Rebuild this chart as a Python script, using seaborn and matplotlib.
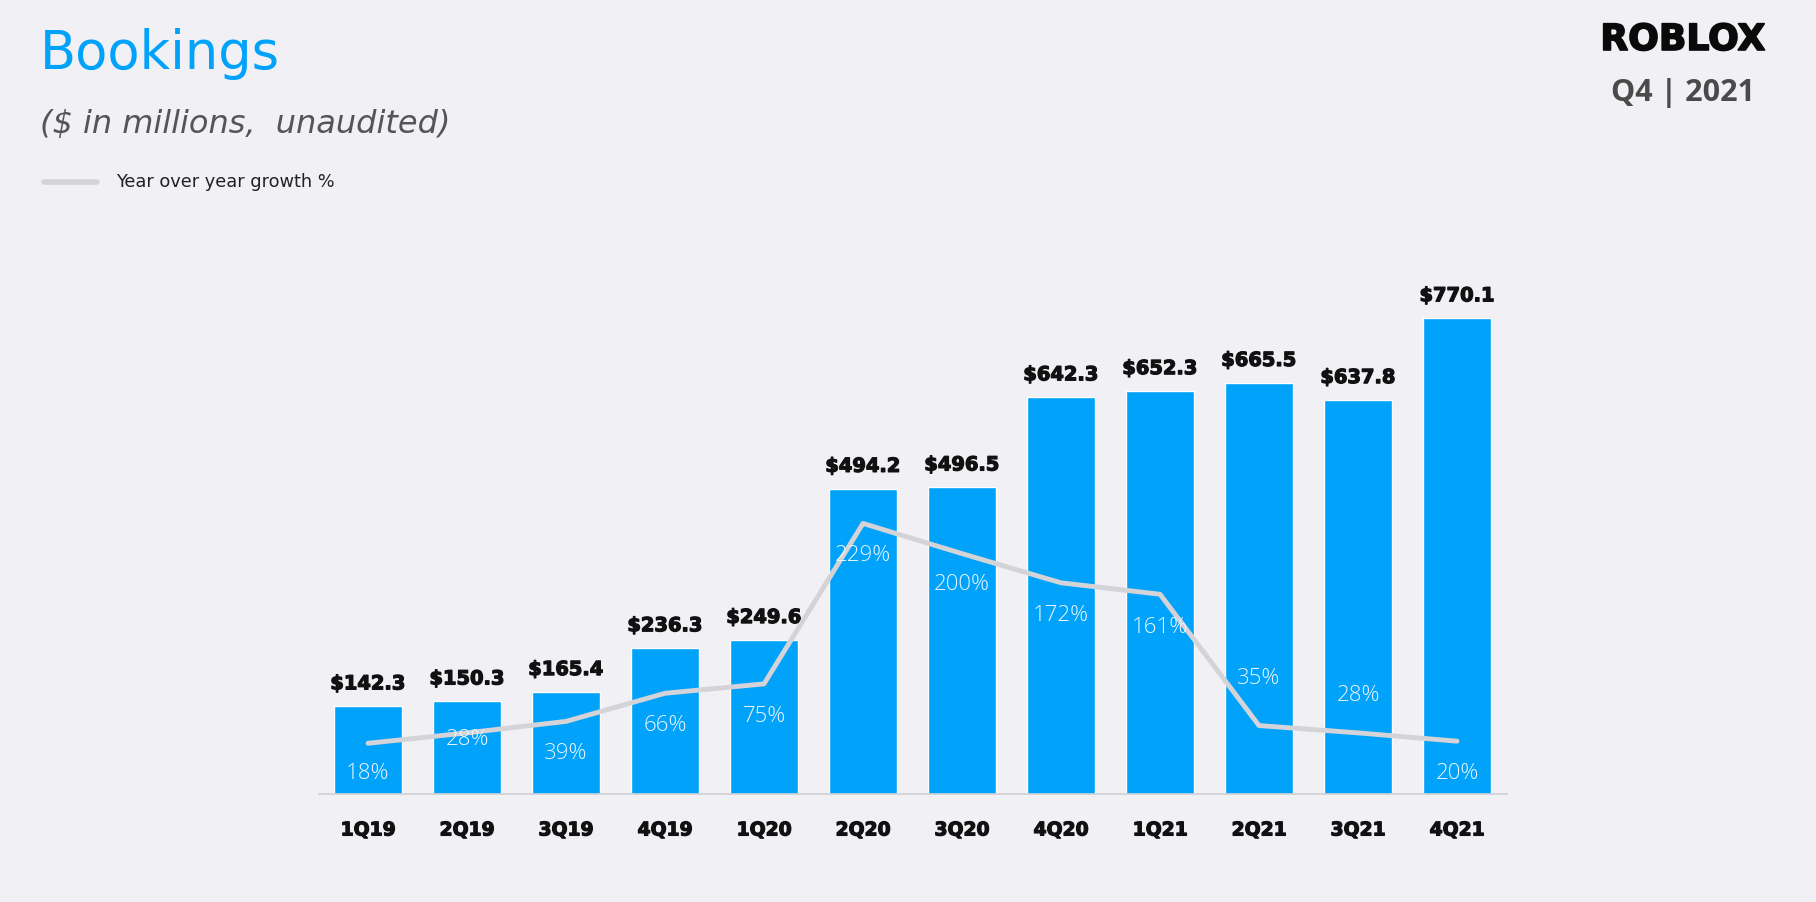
import numpy as np
import matplotlib
matplotlib.use("Agg")
import matplotlib.pyplot as plt
import matplotlib.patheffects as pe
import seaborn as sns

# data
quarters = ["1Q19", "2Q19", "3Q19", "4Q19", "1Q20", "2Q20",
            "3Q20", "4Q20", "1Q21", "2Q21", "3Q21", "4Q21"]
bookings = [142.3, 150.3, 165.4, 236.3, 249.6, 494.2,
            496.5, 642.3, 652.3, 665.5, 637.8, 770.1]
yoy_growth = [18, 28, 39, 66, 75, 229, 200, 172, 161, 35, 28, 20]

# where the % labels sit relative to the line (in % units)
pct_shift = [-29, -6, -31, -31, -31, -31, -30, -31, -32, 45, 36, -31]

bg = "#F0F0F5"
blue = "#00A2FA"
line_grey = "#D4D4D8"
thick = [pe.withStroke(linewidth=0.9, foreground="#111111")]

sns.set_style("white", {"axes.facecolor": bg, "figure.facecolor": bg})
plt.rcParams["font.family"] = ["Open Sans", "DejaVu Sans"]

fig = plt.figure(figsize=(18.16, 9.02), dpi=100)
ax = fig.add_axes([318.5 / 1816, 0.1197, 1188 / 1816, 0.6585])
ax.set_facecolor(bg)

sns.barplot(x=quarters, y=bookings, color=blue, width=0.68, saturation=1, ax=ax)
ax.set_xlim(-0.5, 11.5)
ax.set_ylim(0, 961)

for i, v in enumerate(bookings):
    ax.annotate(f"${v:.1f}", (i, v), xytext=(0, 16), textcoords="offset points",
                ha="center", va="center", fontsize=14, fontweight="bold",
                family="DejaVu Sans", color="#111111", path_effects=thick)

# axis styling
for s in ["top", "right", "left"]:
    ax.spines[s].set_visible(False)
ax.spines["bottom"].set_color("#D0D0D4")
ax.spines["bottom"].set_linewidth(1.2)
ax.set_yticks([])
ax.set_xlabel("")
ax.set_ylabel("")
ax.set_xticks(np.arange(-0.5, 12, 1), minor=True)
ax.tick_params(axis="x", which="major", length=0, pad=19, labelsize=13.5)
ax.tick_params(axis="x", which="minor", length=6, color="#D0D0D4", width=1.2)
for lab in ax.get_xticklabels():
    lab.set_fontweight("bold")
    lab.set_family("DejaVu Sans")
    lab.set_color("#111111")
    lab.set_path_effects(thick)

# yoy growth line on its own scale
ax2 = ax.twinx()
sns.lineplot(x=np.arange(len(quarters)), y=yoy_growth, color=line_grey, linewidth=3.5,
             ax=ax2, legend=False)
ax2.set_ylim(-30.7, 539.3)
ax2.set_xlim(-0.5, 11.5)
ax2.axis("off")
for i, g in enumerate(yoy_growth):
    ax2.text(i, g + pct_shift[i], f"{g}%", ha="center", va="center",
             fontsize=16, fontweight="light", color="#EAF5FF")

# titles and header
fig.text(40 / 1816, 1 - 69 / 902, "Bookings", fontsize=38, color="#00A2FA",
         family="DejaVu Sans", ha="left", va="baseline")
fig.text(40 / 1816, 1 - 133 / 902, "($ in millions,  unaudited)", fontsize=23,
         style="italic", color="#555555", family="DejaVu Sans", ha="left", va="baseline")
fig.lines.append(plt.Line2D([44 / 1816, 97 / 1816], [1 - 182 / 902, 1 - 182 / 902],
                            transform=fig.transFigure, color=line_grey, linewidth=4))
fig.text(116 / 1816, 1 - 182 / 902, "Year over year growth %", fontsize=12.8,
         color="#222222", ha="left", va="center", family="DejaVu Sans")

fig.text(1683 / 1816, 1 - 40 / 902, "ROBLOX", fontsize=26, fontweight="heavy",
         family="DejaVu Sans", color="#0a0a0a", ha="center", va="center",
         path_effects=[pe.withStroke(linewidth=1.2, foreground="#0a0a0a")])
fig.text(1683 / 1816, 1 - 89 / 902, "Q4 | 2021", fontsize=22, fontweight="bold",
         color="#4A4A4A", ha="center", va="center_baseline")

fig.savefig("out.png", dpi=100, facecolor=bg)
